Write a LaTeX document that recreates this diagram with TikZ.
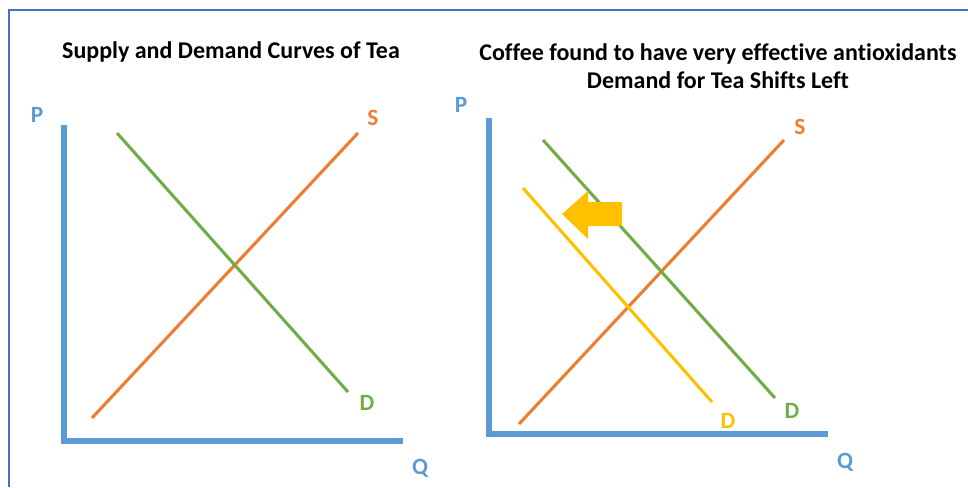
\documentclass[tikz,border=0pt]{standalone}
\usepackage{fontspec}
\setmainfont{Carlito}[Ligatures=NoCommon]
\usepackage{tikz}
\usetikzlibrary{
	arrows.meta,
	positioning,
	calc
}
\usepackage{xcolor}
\definecolor{axisblue}{HTML}{5B9BD5}
\definecolor{frameblue}{HTML}{4472C4}
\definecolor{supplyorange}{HTML}{ED7D31}
\definecolor{demandgreen}{HTML}{70AD47}
\definecolor{shiftyellow}{HTML}{FFC000}

\begin{document}
\begin{tikzpicture}[x=0.75pt,y=-0.75pt,
	axis/.style={draw=axisblue,line width=3.8pt},
	curve/.style={line width=2.3pt},
	lbl/.style={font=\fontsize{17.5}{20}\selectfont\bfseries,inner sep=0pt},
	title/.style={font=\fontsize{18}{21}\selectfont\bfseries,align=center,inner sep=0pt}]
		
		\useasboundingbox (0,0) rectangle (968,487);
		
		% Frame
		\draw[frameblue,line width=1.5pt] (9,487) -- (9,10) -- (968,10);
		
		% Left panel
		\node[title] (tleft) at (231,52) {Supply and Demand Curves of Tea};
		
		\coordinate (ptopA) at (64,125);
		\coordinate (origA) at (64,441);
		\coordinate (qendA) at (403,441);
		\draw[axis] (ptopA) -- (origA) -- (qendA);
		\node[lbl,text=axisblue] (pA) at (37,115) {P};
		\node[lbl,text=axisblue] (qA) at (420,468) {Q};
		
		\coordinate (sloA) at (92,418);
		\coordinate (shiA) at (358,133);
		\draw[curve,supplyorange] (sloA) -- (shiA);
		\node[lbl,text=supplyorange] (sA) at (373,118) {S};
		
		\coordinate (dhiA) at (117,133);
		\coordinate (dloA) at (348,392);
		\draw[curve,demandgreen] (dhiA) -- (dloA);
		\node[lbl,text=demandgreen] (dA) at (367,403) {D};
		
		% Right panel
		\node[title] (tright) at (718,66) {Coffee found to have very effective antioxidants\\Demand for Tea Shifts Left};
		
		\coordinate (ptopB) at (489,118);
		\coordinate (origB) at (489,434);
		\coordinate (qendB) at (828,434);
		\draw[axis] (ptopB) -- (origB) -- (qendB);
		\node[lbl,text=axisblue] (pB) at (461,105) {P};
		\node[lbl,text=axisblue] (qB) at (845,462) {Q};
		
		\coordinate (sloB) at (519,424);
		\coordinate (shiB) at (784,140);
		\draw[curve,supplyorange] (sloB) -- (shiB);
		\node[lbl,text=supplyorange] (sB) at (800,127) {S};
		
		\coordinate (dhiB) at (543,140);
		\coordinate (dloB) at (775,398);
		\draw[curve,demandgreen] (dhiB) -- (dloB);
		\node[lbl,text=demandgreen] (dB) at (792,411) {D};
		
		\coordinate (ndhiB) at (523,188);
		\coordinate (ndloB) at (712,402);
		\draw[curve,shiftyellow] (ndhiB) -- (ndloB);
		\node[lbl,text=shiftyellow] (ndB) at (728,421) {D};
		
		% Shift arrow
		\fill[shiftyellow] (562,214) -- (588,191) -- (588,202) -- (622,202)
		-- (622,226) -- (588,226) -- (588,239) -- cycle;
		
	\end{tikzpicture}
\end{document}
